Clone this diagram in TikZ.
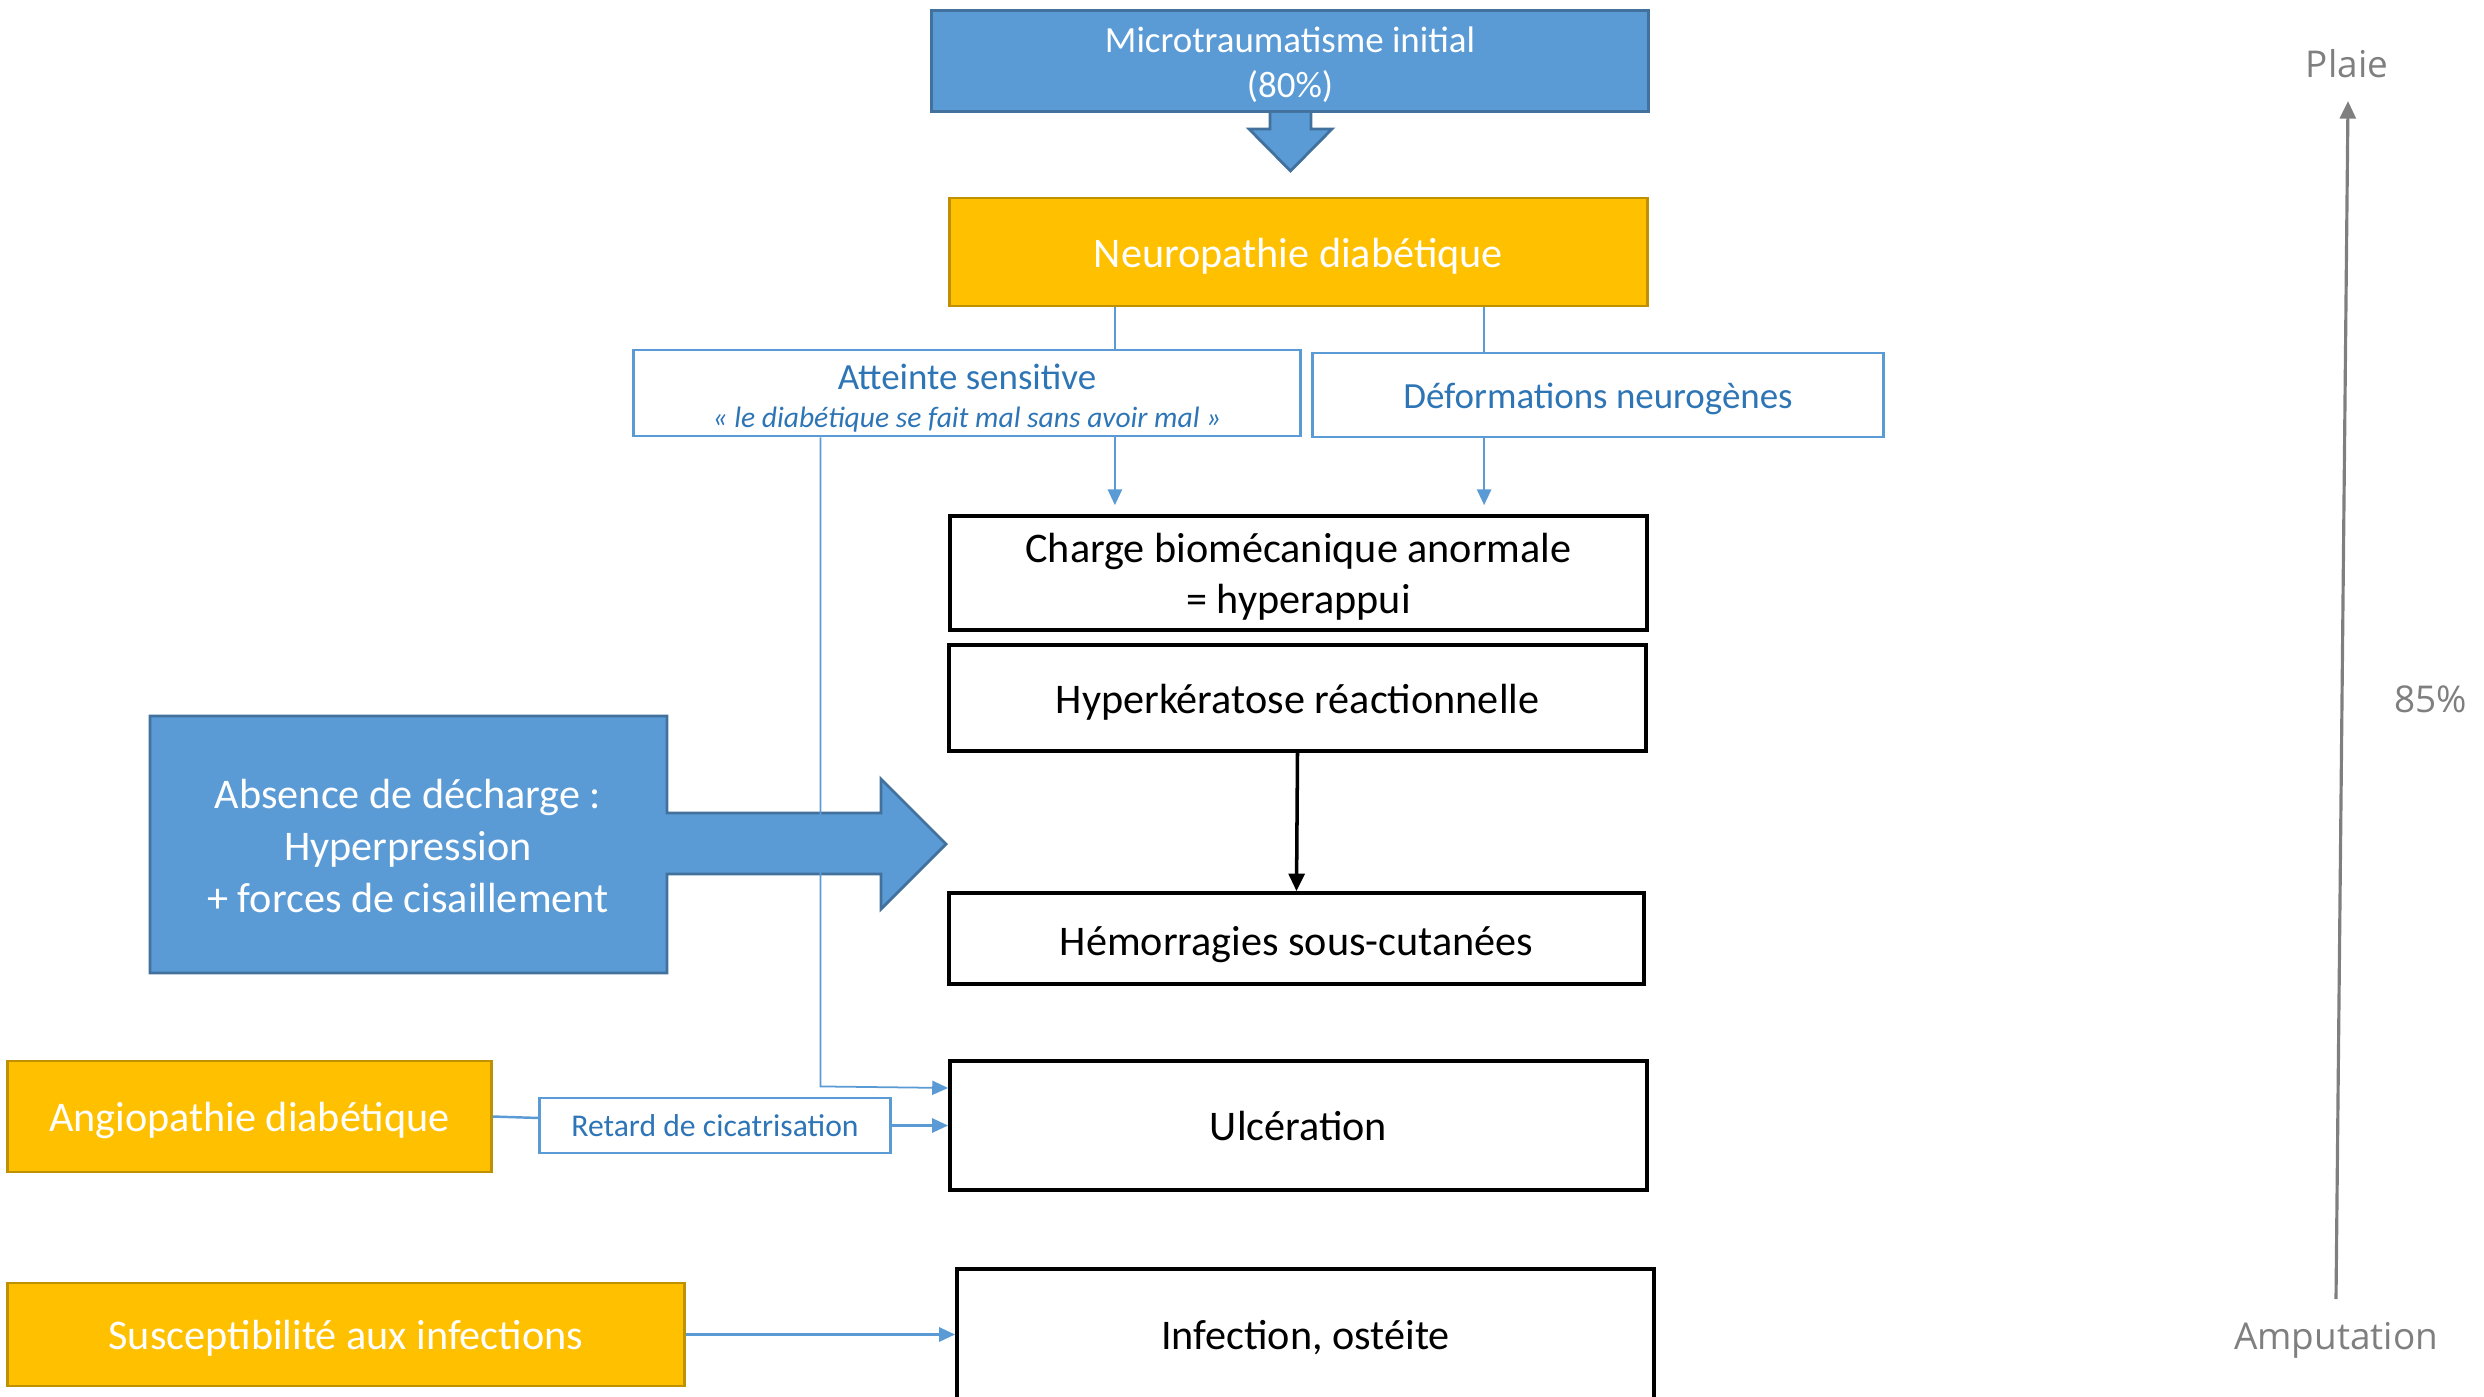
\documentclass[tikz,border=0pt]{standalone}
\usepackage{fontspec}
\setmainfont{Carlito}
\newfontfamily\segfont{Open Sans}
\usetikzlibrary{arrows.meta,calc}
\definecolor{bfill}{HTML}{5B9BD5}
\definecolor{bdraw}{HTML}{41719C}
\definecolor{ofill}{HTML}{FFC000}
\definecolor{odraw}{HTML}{BF9000}
\definecolor{btext}{HTML}{2E75B6}
\definecolor{gtext}{HTML}{7F7F7F}
\newcommand{\lowtext}[2][1.4pt]{\raisebox{-#1}[\height][\depth]{\begin{tabular}{@{}c@{}}#2\end{tabular}}}
\begin{document}
\begin{tikzpicture}[x=0.01cm,y=-0.01cm,
  bluebox/.style={draw=bdraw, fill=bfill, line width=0.8pt, text=white, font=\fontsize{10.5}{12.8}\selectfont, align=center, inner sep=0pt},
  orangebox/.style={draw=odraw, fill=ofill, line width=0.8pt, text=white, font=\fontsize{12}{14.6}\selectfont, align=center, inner sep=0pt},
  outlinebox/.style={draw=bfill, line width=0.8pt, text=btext, align=center, inner sep=0pt},
  blackbox/.style={draw=black, line width=1pt, text=black, font=\fontsize{12}{14.6}\selectfont, align=center, inner sep=0pt},
  conn/.style={draw=bfill, line width=0.7pt},
  thinconn/.style={draw=bfill, line width=0.5pt},
  arr/.style={conn, -{Triangle[length=4.5pt,width=4pt]}},
  graytext/.style={text=gtext, font=\segfont\fontsize{10.5}{12.6}\selectfont, inner sep=0pt},
]
\useasboundingbox (0,0) rectangle (2484,1397);

% top block
\node[bluebox, minimum width=7.17cm, minimum height=1.01cm] (micro) at (1290,61) {\lowtext{Microtraumatisme initial\\(80\%)}};
\draw[bdraw, fill=bfill, line width=0.8pt] ([xshift=-0.2cm]micro.south) -- ++(0,16) -- ++(-21,0) -- ++(41.5,42) -- ++(41.5,-42) -- ++(-21,0) -- ++(0,-16);

\node[orangebox, minimum width=6.97cm, minimum height=1.08cm] (neuro) at (1298.5,252) {\lowtext{Neuropathie diabétique}};

\node[outlinebox, minimum width=6.66cm, minimum height=0.86cm] (att) at (967,393)
  {\lowtext[1.9pt]{{\fontsize{10.5}{12.8}\selectfont Atteinte sensitive}\\[-1.2pt]{\fontsize{8.4}{10}\selectfont\itshape «~le diabétique se fait mal sans avoir mal~»}}};
\node[outlinebox, minimum width=5.70cm, minimum height=0.84cm, font=\fontsize{10.5}{12.8}\selectfont] (def) at (1598,395) {\lowtext{Déformations neurogènes}};

\node[blackbox, minimum width=6.97cm, minimum height=1.14cm] (charge) at (1298.5,573) {\lowtext{Charge biomécanique anormale\\= hyperappui}};
\node[blackbox, minimum width=6.97cm, minimum height=1.06cm] (hyper) at (1297.5,698) {\lowtext{Hyperkératose réactionnelle}};
\node[blackbox, minimum width=6.95cm, minimum height=0.91cm] (hemo) at (1296.5,938.5) {\lowtext[1.8pt]{Hémorragies sous-cutanées}};
\node[blackbox, minimum width=6.97cm, minimum height=1.29cm] (ulcer) at (1298.5,1125.5) {\lowtext[1.4pt]{Ulcération}};
\node[blackbox, minimum width=6.97cm, minimum height=1.31cm] (infect) at (1305.5,1334.5) {\lowtext{Infection, ostéite}};

% big block arrow
\draw[bdraw, fill=bfill, line width=0.8pt] (150,716) -- (667,716) -- (667,813) -- (881,813) -- (881,779) -- (946,844) -- (881,909) -- (881,874) -- (667,874) -- (667,973) -- (150,973) -- cycle;
\node[text=white, font=\fontsize{12}{14.8}\selectfont, align=center] (abs) at (408,846) {Absence de décharge :\\Hyperpression\\+ forces de cisaillement};

% left boxes
\node[orangebox, minimum width=4.83cm, minimum height=1.11cm] (angio) at (249.5,1116.5) {\lowtext{Angiopathie diabétique}};
\node[outlinebox, minimum width=3.50cm, minimum height=0.55cm, font=\fontsize{9}{11}\selectfont] (retard) at (715,1125.5) {\lowtext[1pt]{Retard de cicatrisation}};
\node[orangebox, minimum width=6.76cm, minimum height=1.03cm] (susc) at (346,1334.5) {\lowtext{Susceptibilité aux infections}};

% connectors
\draw[conn] ([xshift=-1.835cm]neuro.south) -- ([xshift=-1.835cm]neuro.south |- att.north);
\draw[arr, shorten >=0.09cm] ([xshift=-1.835cm]neuro.south |- att.south) -- ([xshift=-1.835cm]charge.north);
\draw[conn] ([xshift=1.855cm]neuro.south) -- ([xshift=1.855cm]neuro.south |- def.north);
\draw[arr, shorten >=0.09cm] ([xshift=1.855cm]neuro.south |- def.south) -- ([xshift=1.855cm]charge.north);
\draw[black, line width=1pt, -{Triangle[length=5pt,width=4.5pt]}] (hyper.south) -- (hemo.north);
\draw[thinconn, -{Triangle[length=4.5pt,width=4pt]}] ([xshift=1.88cm]att.south west) -- ++(0,649) -- ([yshift=0.375cm]ulcer.west);
\draw[conn] (angio.east) -- ([yshift=0.075cm]retard.west);
\draw[arr] (retard.east) -- (ulcer.west);
\draw[arr] (susc.east) -- (infect.west);

% right scale
\node[graytext] (plaie) at (2347,64) {Plaie};
\node[graytext] (amp) at (2336,1340) {Amputation};
\node[graytext] (pct) at (2431,699) {85\%};
\coordinate (abot) at (2336,1299);
\coordinate (atop) at (2348,101);
\draw[gtext, line width=0.9pt, -{Triangle[length=5pt,width=4.5pt]}] (abot) -- (atop);
\end{tikzpicture}
\end{document}
